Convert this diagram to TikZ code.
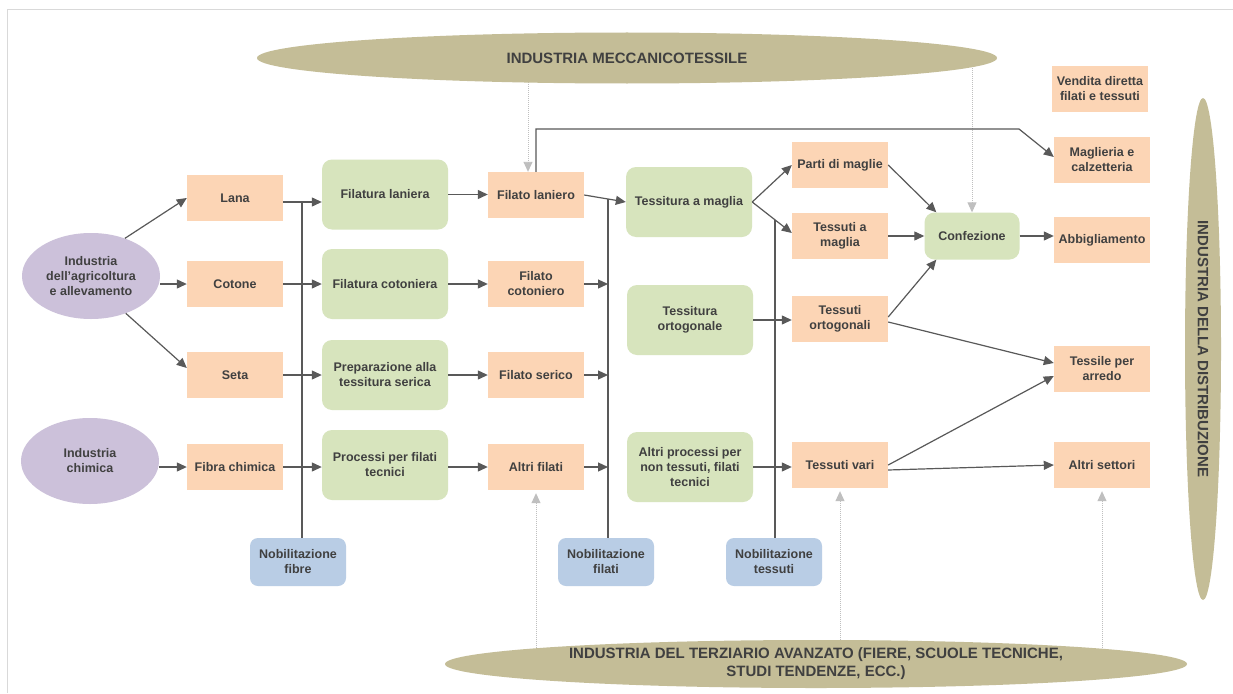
\documentclass[tikz,border=0pt]{standalone}
\usepackage{fontspec}
\setmainfont{Liberation Sans}
\usetikzlibrary{shapes.geometric,arrows.meta,backgrounds}
\definecolor{orng}{HTML}{FCD5B5}
\definecolor{grn}{HTML}{D7E4BD}
\definecolor{purp}{HTML}{CCC1DA}
\definecolor{blu}{HTML}{B9CDE5}
\definecolor{olv}{HTML}{C4BD97}
\definecolor{txt}{HTML}{404040}
\definecolor{arr}{HTML}{595959}
\definecolor{lg}{HTML}{BFBFBF}
\definecolor{frm}{HTML}{D9D9D9}
\begin{document}
\begin{tikzpicture}[x=1pt,y=-1pt,
 base/.style={align=center,text=txt,font=\fontsize{12.5}{15}\selectfont\bfseries,inner sep=0pt},
 obox/.style={base,fill=orng,minimum width=96pt,minimum height=46pt},
 gbox/.style={base,fill=grn,rounded corners=10pt,minimum width=126pt,minimum height=70pt},
 bbox/.style={base,fill=blu,rounded corners=8pt,minimum width=96pt,minimum height=48pt},
 pell/.style={base,ellipse,fill=purp,minimum width=138pt,minimum height=86pt},
 bigell/.style={ellipse,fill=olv,text=txt,inner sep=0pt,align=center,font=\fontsize{15}{18}\selectfont\bfseries},
 conn/.style={draw=arr,line width=1.2pt,-{Triangle[length=10pt,width=9pt]}},
 lnk/.style={draw=arr,line width=1.2pt},
 gconn/.style={draw=lg,line width=0.9pt,dash pattern=on 1.2pt off 0.8pt,-{Triangle[length=10pt,width=9pt]}},
]
\path[use as bounding box] (0,0) rectangle (1233,693);
\draw[frm,line width=1.5pt] (7.5,693) -- (7.5,9.5) -- (1233,9.5);

% big ellipses
\node[bigell,minimum width=740pt,minimum height=51pt] (mec) at (627,58) {INDUSTRIA MECCANICOTESSILE};
\node[bigell,minimum width=742pt,minimum height=48pt] (terz) at (816,664) {INDUSTRIA DEL TERZIARIO AVANZATO (FIERE, SCUOLE TECNICHE,\\STUDI TENDENZE, ECC.)};
\node[bigell,rotate=-90,minimum width=502pt,minimum height=36pt] (dist) at (1203,349) {INDUSTRIA DELLA DISTRIBUZIONE};

% sources
\node[pell] (agri) at (91,276) {Industria\\dell’agricoltura\\e allevamento};
\node[pell] (chim) at (90,461) {Industria\\chimica};

% column 1
\node[obox] (lana) at (235,198) {Lana};
\node[obox] (cot) at (235,284) {Cotone};
\node[obox] (seta) at (235,375) {Seta};
\node[obox] (fib) at (235,467) {Fibra chimica};

% column 2
\node[gbox] (fl) at (385,194.5) {Filatura laniera};
\node[gbox] (fc) at (385,284) {Filatura cotoniera};
\node[gbox] (pr) at (385,375) {Preparazione alla\\tessitura serica};
\node[gbox] (pf) at (385,465) {Processi per filati\\tecnici};

% column 3
\node[obox] (flan) at (536,195) {Filato laniero};
\node[obox] (fcot) at (536,284) {Filato\\cotoniero};
\node[obox] (fser) at (536,375) {Filato serico};
\node[obox] (altf) at (536,467) {Altri filati};

% column 4
\node[gbox] (tm) at (689,202) {Tessitura a maglia};
\node[gbox] (to) at (690,320) {Tessitura\\ortogonale};
\node[gbox] (ap) at (690,467) {Altri processi per\\non tessuti, filati\\tecnici};

% column 5
\node[obox] (pm) at (840,165) {Parti di maglie};
\node[obox] (tam) at (840,236) {Tessuti a\\maglia};
\node[obox] (tor) at (840,319) {Tessuti\\ortogonali};
\node[obox] (tv) at (840,465) {Tessuti vari};

\node[gbox,minimum width=95pt,minimum height=47pt] (conf) at (972,236) {Confezione};

% outputs
\node[obox] (vend) at (1100,89) {Vendita diretta\\filati e tessuti};
\node[obox] (magl) at (1102,160) {Maglieria e\\calzetteria};
\node[obox] (abb) at (1102,240) {Abbigliamento};
\node[obox] (arre) at (1102,369) {Tessile per\\arredo};
\node[obox] (alt) at (1102,465) {Altri settori};

% nobilitazione
\node[bbox] (nfib) at (298,562) {Nobilitazione\\fibre};
\node[bbox] (nfil) at (606,562) {Nobilitazione\\filati};
\node[bbox] (ntes) at (774,562) {Nobilitazione\\tessuti};

% coordinates
\coordinate (v1) at (302,202);
\coordinate (v2) at (608,199);
\coordinate (v3) at (775,220);
\coordinate (k1) at (1019,129);

% background: white page and light grey links
\begin{pgfonlayer}{background}
\fill[white] (0,0) rectangle (1233,693);
\draw[gconn] (528,58) -- (528,0 |- flan.north);
\draw[gconn] (conf.north |- mec.center) -- (conf.north);
\draw[gconn] (altf.south |- terz.center) -- ([yshift=-3pt]altf.south);
\draw[gconn] (tv.south |- terz.center) -- ([yshift=-3pt]tv.south);
\draw[gconn] (alt.south |- terz.center) -- ([yshift=-3pt]alt.south);
\end{pgfonlayer}

% sources -> column 1
\draw[conn] (agri.48) -- (lana.west);
\draw[conn] (agri.east |- cot.west) -- (cot.west);
\draw[conn] (agri.-47) -- ([yshift=7pt]seta.west);
\draw[conn] (chim.east |- fib.west) -- (fib.west);

% column 1 -> column 2
\draw[conn] ([yshift=-4pt]lana.east) -- ([yshift=-4pt]lana.east -| fl.west);
\draw[conn] (cot.east) -- (cot.east -| fc.west);
\draw[conn] (seta.east) -- (seta.east -| pr.west);
\draw[conn] (fib.east) -- (fib.east -| pf.west);
\draw[lnk] (v1) -- (v1 |- nfib.north);

% column 2 -> column 3
\draw[conn] (fl.east) -- (fl.east -| flan.west);
\draw[conn] (fc.east) -- (fc.east -| fcot.west);
\draw[conn] (pr.east) -- (pr.east -| fser.west);
\draw[conn] (altf.west -| pf.east) -- (altf.west);

% column 3 -> column 4
\draw[conn] (flan.east) -- (tm.west);
\draw[lnk] (v2) -- (v2 |- nfil.north);
\draw[conn] (fcot.east) -- (fcot.east -| v2);
\draw[conn] (fser.east) -- (fser.east -| v2);
\draw[conn] (altf.east) -- (altf.east -| v2);
\draw[conn] (flan.north) |- (k1) -- ([yshift=3pt]magl.west);

% column 4 -> column 5
\draw[conn] (tm.east) -- (pm.west);
\draw[conn] (tm.east) -- ([yshift=3pt]tam.west);
\draw[lnk] (v3) -- (v3 |- ntes.north);
\draw[conn] (to.east) -- (to.east -| tor.west);
\draw[conn] (ap.east) -- (ap.east -| tv.west);

% column 5 -> outputs
\draw[conn] (pm.east) -- ([xshift=12pt]conf.north west);
\draw[conn] (tam.east) -- (tam.east -| conf.west);
\draw[conn] ([yshift=2pt]tor.east) -- ([xshift=12pt]conf.south west);
\draw[conn] (conf.east) -- (conf.east -| abb.west);
\draw[conn] ([yshift=-3pt]tor.east) -- ([yshift=6pt]arre.west);
\draw[conn] (tv.east) -- ([yshift=-7pt]arre.west);
\draw[conn] ([yshift=-5pt]tv.east) -- (alt.west);
\end{tikzpicture}
\end{document}
